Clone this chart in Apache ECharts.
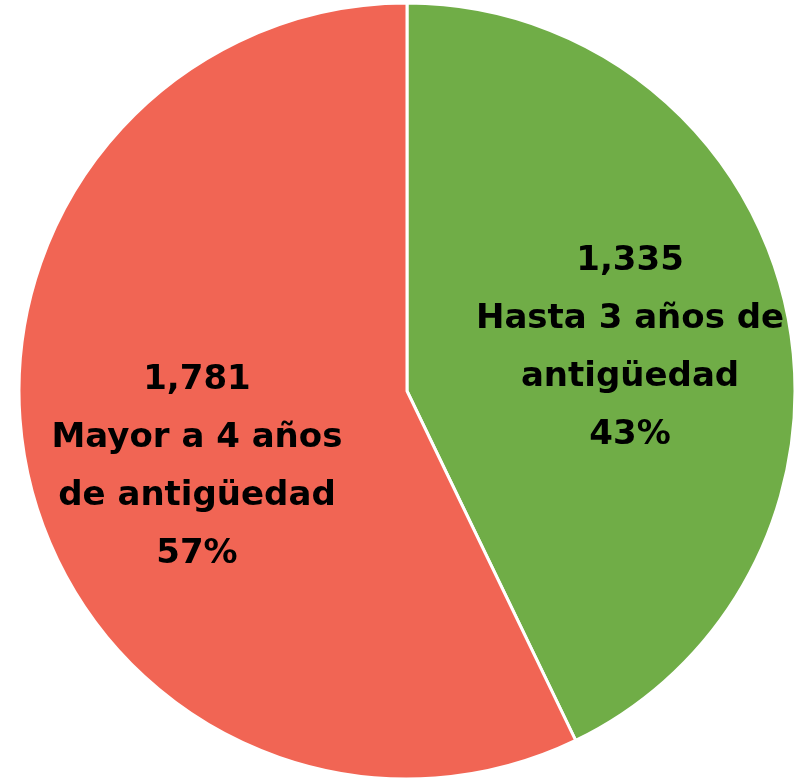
<!DOCTYPE html>
<html>
<head>
<meta charset="utf-8">
<script src="https://cdn.jsdelivr.net/npm/echarts@6/dist/echarts.min.js"></script>
<style>
  html, body { margin:0; padding:0; background:#fff; }
  #chart { width:795px; height:778px; }
</style>
</head>
<body>
<div id="chart"></div>
<script>
const categories = ['Hasta 3 años de\nantigüedad', 'Mayor a 4 años\nde antigüedad'];
const values = [1335, 1781];
const colors = ['#70AD47', '#F16554'];
const labelOffsets = [[31, 1], [-18, 32]];

const chart = echarts.init(document.getElementById('chart'));
chart.setOption({
  animation: false,
  series: [{
    type: 'pie',
    center: [407, 391],
    radius: [0, 388],
    startAngle: 90,
    clockwise: true,
    percentPrecision: 0,
    itemStyle: { borderColor: '#fff', borderWidth: 3 },
    emphasis: { disabled: true },
    label: {
      show: true,
      position: 'inside',
      color: '#000',
      fontFamily: 'DejaVu Sans',
      fontWeight: 'bold',
      fontSize: 34,
      lineHeight: 58,
      align: 'center',
      formatter: function(p){
        return p.value.toLocaleString('en-US') + '\n' + p.name + '\n' + p.percent + '%';
      }
    },
    labelLine: { show: false },
    data: categories.map((name, i) => ({
      name: name,
      value: values[i],
      itemStyle: { color: colors[i] },
      label: { offset: labelOffsets[i] }
    }))
  }]
});
</script>
</body>
</html>
